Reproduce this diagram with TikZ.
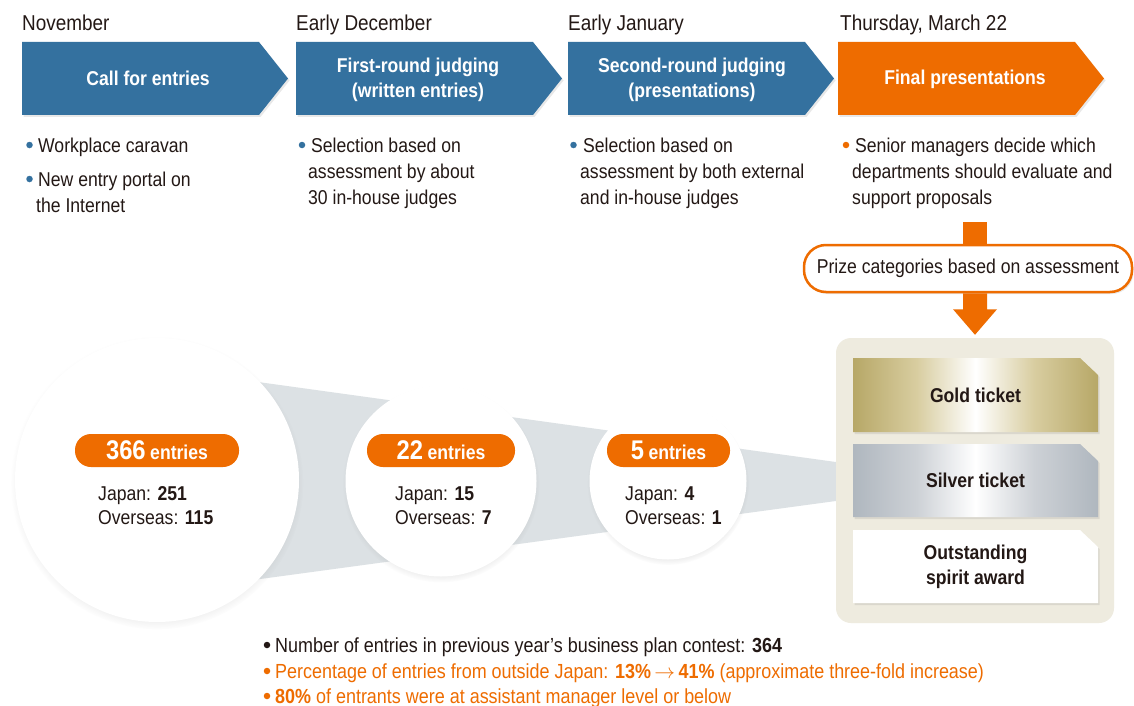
\documentclass[tikz,border=0pt]{standalone}
\usepackage{fontspec}
\setmainfont{Liberation Sans}[FakeStretch=0.88]
\usetikzlibrary{shadows,calc}
\definecolor{cblue}{HTML}{34719F}
\definecolor{corange}{HTML}{EE6C00}
\definecolor{ctext}{HTML}{231815}
\definecolor{cbeige}{HTML}{EEEBDF}
\definecolor{cband}{HTML}{DCE1E4}
\definecolor{cgold}{HTML}{AA984C}
\definecolor{cgoldl}{HTML}{D8CDA0}
\definecolor{csilver}{HTML}{8D98A3}
\definecolor{csilverl}{HTML}{CDD1D6}
\pgfdeclarehorizontalshading{goldsh}{100bp}{color(0bp)=(cgold); color(25bp)=(cgold!85!white); color(38bp)=(cgoldl); color(50bp)=(white); color(62bp)=(cgoldl); color(75bp)=(cgold!85!white); color(100bp)=(cgold)}
\pgfdeclarehorizontalshading{silversh}{100bp}{color(0bp)=(csilver); color(25bp)=(csilver!70!white); color(38bp)=(csilverl); color(50bp)=(white); color(62bp)=(csilverl); color(75bp)=(csilver!70!white); color(100bp)=(csilver)}
\begin{document}
\begin{tikzpicture}[x=1pt,y=-1pt,
  txt/.style={font=\fontsize{20}{26}\selectfont, text=ctext, inner sep=0pt, anchor=base west},
  otxt/.style={txt, text=corange},
  ntxt/.style={txt, font=\fontsize{20.4}{26}\selectfont},
  datelbl/.style={txt, font=\fontsize{21.5}{26}\selectfont},
  bul/.style={circle, fill=#1, minimum size=6.5pt, inner sep=0pt},
  chevlbl/.style={text=white, font=\fontsize{20}{25}\selectfont\bfseries, align=center, inner sep=0pt},
  chevshadow/.style={drop shadow={opacity=0.18, shadow xshift=1.5pt, shadow yshift=-2pt}},
  circ/.style={circle, fill=white, inner sep=0pt, circular drop shadow={opacity=0.25, shadow scale=1.03, shadow xshift=0pt, shadow yshift=-3pt}},
  pill/.style={fill=corange, rounded corners=16pt, minimum height=33pt, inner sep=0pt, text=white, font=\fontsize{20}{24}\selectfont\bfseries},
  ticket/.style={drop shadow={opacity=0.18, shadow xshift=1.5pt, shadow yshift=-2pt}},
  tickettxt/.style={text=ctext, font=\fontsize{20}{25}\selectfont\bfseries, align=center, inner sep=0pt},
]
\useasboundingbox (0,0) rectangle (1134,706);
\fill[white] (0,0) rectangle (1134,706);

% ---- dates
\node[datelbl] (d1) at (22,31) {November};
\node[datelbl] (d2) at (296,31) {Early December};
\node[datelbl] (d3) at (568,31) {Early January};
\node[datelbl] (d4) at (840,31) {Thursday, March 22};

% ---- chevrons
\foreach \x/\col in {22/cblue, 296/cblue, 568/cblue, 838/corange}{
  \fill[\col, chevshadow] (\x,42) -- ++(237,0) -- ++(29,36.5) -- ++(-29,36.5) -- ++(-237,0) -- cycle;
}
\node[chevlbl] (c1) at (148,78.5) {Call for entries};
\node[chevlbl] (c2) at (418,79.5) {First-round judging\\(written entries)};
\node[chevlbl] (c3) at (692,79.5) {Second-round judging\\(presentations)};
\node[chevlbl] (c4) at (965,79) {Final presentations};

% ---- bullet texts
\node[bul=cblue] (b1) at (29.5,145) {};
\node[txt] (t1a) at (38,152) {Workplace caravan};
\node[bul=cblue] (b1b) at (29.5,179) {};
\node[txt] (t1b) at (38,186) {New entry portal on};
\node[txt] (t1c) at (36,212) {the Internet};

\node[bul=cblue] (b2) at (302,145) {};
\node[txt] (t2a) at (311,152) {Selection based on};
\node[txt] (t2b) at (308,178) {assessment by about};
\node[txt] (t2c) at (308,204) {30 in-house judges};

\node[bul=cblue] (b3) at (573.5,145) {};
\node[txt] (t3a) at (583,152) {Selection based on};
\node[txt] (t3b) at (580,178) {assessment by both external};
\node[txt] (t3c) at (580,204) {and in-house judges};

\node[bul=corange] (b4) at (846,145) {};
\node[txt] (t4a) at (855,152) {Senior managers decide which};
\node[txt] (t4b) at (852,178) {departments should evaluate and};
\node[txt] (t4c) at (852,204) {support proposals};

% ---- award box
\node[fill=cbeige, rounded corners=15pt, minimum width=278pt, minimum height=285pt, inner sep=0pt] (award) at (975,480.5) {};

% ---- band between circles and award box
\coordinate (c1c) at (157,480);
\fill[cband] ([yshift=112pt]c1c) -- ([yshift=18.5pt]award.west) -- ([yshift=-20.5pt]award.west) -- ([yshift=-113pt]c1c) -- cycle;

% ---- circles
\node[circ, minimum size=284pt] (k1) at (c1c) {};
\node[circ, minimum size=191pt] (k2) at (441,481) {};
\node[circ, minimum size=157pt] (k3) at (668,481) {};

\node[pill, minimum width=164pt] (p1) at (157,450.5) {\fontsize{27}{27}\selectfont 366\,\fontsize{20}{24}\selectfont entries};
\node[pill, minimum width=148pt] (p2) at (441,450.5) {\fontsize{27}{27}\selectfont 22\,\fontsize{20}{24}\selectfont entries};
\node[pill, minimum width=123pt] (p3) at (668.5,450.5) {\fontsize{27}{27}\selectfont 5\,\fontsize{20}{24}\selectfont entries};

\node[txt] (j1) at (98,500) {Japan: \textbf{251}};
\node[txt] (o1) at (98,524) {Overseas: \textbf{115}};
\node[txt] (j2) at (395,500) {Japan: \textbf{15}};
\node[txt] (o2) at (395,524) {Overseas: \textbf{7}};
\node[txt] (j3) at (625,500) {Japan: \textbf{4}};
\node[txt] (o3) at (625,524) {Overseas: \textbf{1}};

% ---- tickets
\path[shading=goldsh, ticket] (853,358) -- (1080,358) -- (1098,375) -- (1098,432) -- (853,432) -- cycle;
\path[shading=silversh, ticket] (853,444) -- (1080,444) -- (1098,461) -- (1098,517) -- (853,517) -- cycle;
\path[fill=white, ticket] (853,530) -- (1080,530) -- (1098,547) -- (1098,603) -- (853,603) -- cycle;
\node[tickettxt] (gold) at (975.5,395) {Gold ticket};
\node[tickettxt] (silver) at (975.5,480.5) {Silver ticket};
\node[tickettxt] (spirit) at (975.5,567) {Outstanding\\spirit award};

% ---- prize box and arrows
\coordinate (s4) at (975,222);
\fill[corange] ([xshift=-12pt]s4) rectangle ([xshift=12pt,yshift=-4pt]s4 |- 0,245);
\node[draw=corange, line width=2.5pt, fill=white, rounded corners=22pt, minimum width=328pt, minimum height=47pt, inner sep=0pt, font=\fontsize{20}{26}\selectfont, text=ctext, drop shadow={opacity=0.18, shadow xshift=1.5pt, shadow yshift=-2pt}] (prize) at (968,268.5) {Prize categories based on assessment};
\fill[corange] ([xshift=-12pt]prize.south -| award.north) -- ([xshift=12pt]prize.south -| award.north)
  -- ([xshift=12pt,yshift=-16pt]prize.south -| award.north) -- ([xshift=22pt,yshift=-16pt]prize.south -| award.north)
  -- ([yshift=3pt]award.north)
  -- ([xshift=-22pt,yshift=-16pt]prize.south -| award.north) -- ([xshift=-12pt,yshift=-16pt]prize.south -| award.north) -- cycle;

% ---- bottom notes
\node[bul=ctext] (n1b) at (267,645) {};
\node[ntxt] (n1) at (275,652) {Number of entries in previous year’s business plan contest: \textbf{364}};
\node[bul=corange] (n2b) at (267,671) {};
\node[ntxt, text=corange] (n2) at (275,678) {Percentage of entries from outside Japan: \textbf{13\%}\,$\rightarrow$\,\textbf{41\%} (approximate three-fold increase)};
\node[bul=corange] (n3b) at (267,696) {};
\node[ntxt, text=corange] (n3) at (275,703) {\textbf{80\%} of entrants were at assistant manager level or below};
\end{tikzpicture}
\end{document}
